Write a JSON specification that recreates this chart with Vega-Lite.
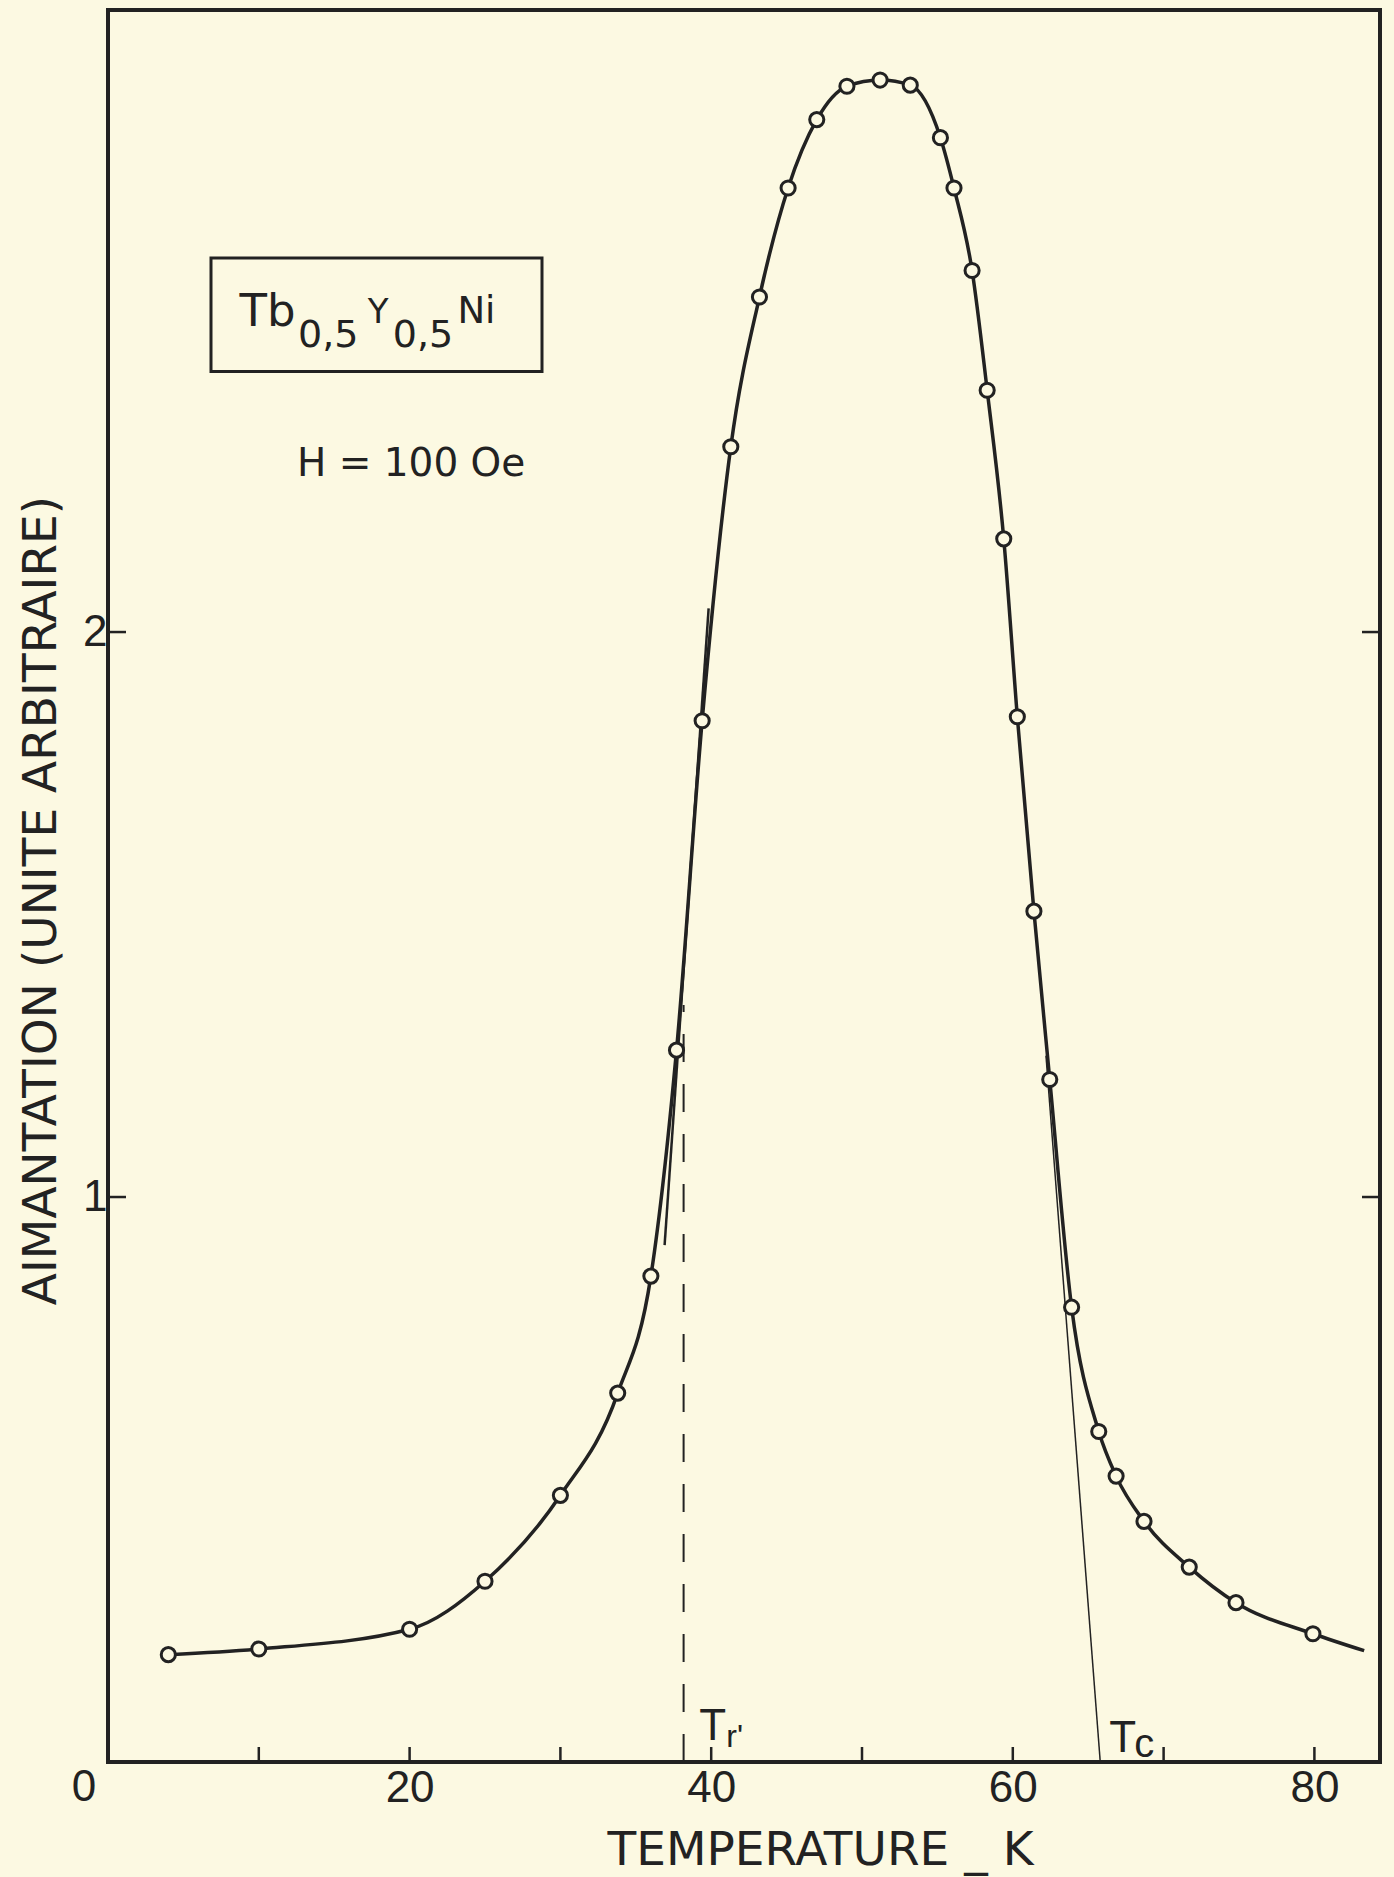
{
  "$schema": "https://vega.github.io/schema/vega-lite/v6.json",
  "width": 1272,
  "height": 1752,
  "autosize": "none",
  "padding": {"left": 108, "top": 10, "right": 14, "bottom": 115},
  "background": "#FCF9E2",
  "config": {
    "view": {"stroke": "#222222", "strokeWidth": 4},
    "axis": {
      "grid": false,
      "domain": false,
      "ticks": false,
      "labelColor": "#222222",
      "titleColor": "#222222",
      "labelFont": "Liberation Sans",
      "labelFontSize": 44,
      "titleFont": "DejaVu Sans",
      "titleFontWeight": "normal"
    }
  },
  "datasets": {
    "points": [
      {"t": 4, "m": 0.19}, {"t": 10, "m": 0.2}, {"t": 20, "m": 0.235}, {"t": 25, "m": 0.32},
      {"t": 30, "m": 0.472}, {"t": 33.8, "m": 0.653}, {"t": 36, "m": 0.86}, {"t": 37.7, "m": 1.26},
      {"t": 39.4, "m": 1.843}, {"t": 41.3, "m": 2.328}, {"t": 43.2, "m": 2.593}, {"t": 45.1, "m": 2.786},
      {"t": 47, "m": 2.907}, {"t": 49, "m": 2.966}, {"t": 51.2, "m": 2.977}, {"t": 53.2, "m": 2.968},
      {"t": 55.2, "m": 2.875}, {"t": 56.1, "m": 2.786}, {"t": 57.3, "m": 2.64}, {"t": 58.3, "m": 2.428},
      {"t": 59.4, "m": 2.165}, {"t": 60.3, "m": 1.85}, {"t": 61.4, "m": 1.506}, {"t": 62.45, "m": 1.208},
      {"t": 63.9, "m": 0.805}, {"t": 65.7, "m": 0.585}, {"t": 66.85, "m": 0.506}, {"t": 68.7, "m": 0.426},
      {"t": 71.7, "m": 0.345}, {"t": 74.8, "m": 0.282}, {"t": 79.9, "m": 0.227}
    ],
    "curve": [
      {"t": 4, "m": 0.19}, {"t": 10, "m": 0.2}, {"t": 20, "m": 0.235}, {"t": 25, "m": 0.32},
      {"t": 30, "m": 0.472}, {"t": 33.8, "m": 0.653}, {"t": 36, "m": 0.86}, {"t": 37.7, "m": 1.26},
      {"t": 39.4, "m": 1.843}, {"t": 41.3, "m": 2.328}, {"t": 43.2, "m": 2.593}, {"t": 45.1, "m": 2.786},
      {"t": 47, "m": 2.907}, {"t": 49, "m": 2.966}, {"t": 51.2, "m": 2.977}, {"t": 53.2, "m": 2.968},
      {"t": 55.2, "m": 2.875}, {"t": 56.1, "m": 2.786}, {"t": 57.3, "m": 2.64}, {"t": 58.3, "m": 2.428},
      {"t": 59.4, "m": 2.165}, {"t": 60.3, "m": 1.85}, {"t": 61.4, "m": 1.506}, {"t": 62.45, "m": 1.208},
      {"t": 63.9, "m": 0.805}, {"t": 65.7, "m": 0.585}, {"t": 66.85, "m": 0.506}, {"t": 68.7, "m": 0.426},
      {"t": 71.7, "m": 0.345}, {"t": 74.8, "m": 0.282}, {"t": 79.9, "m": 0.227}, {"t": 83.3, "m": 0.197}
    ],
    "xticks": [
      {"t": 10, "m": 0}, {"t": 20, "m": 0}, {"t": 30, "m": 0}, {"t": 40, "m": 0},
      {"t": 50, "m": 0}, {"t": 60, "m": 0}, {"t": 70, "m": 0}, {"t": 80, "m": 0}
    ],
    "yticksLeft": [{"t": 0, "m": 1}, {"t": 0, "m": 2}],
    "yticksRight": [{"t": 84.35, "m": 1}, {"t": 84.35, "m": 2}],
    "tangentTr": [{"t": 36.91, "m": 0.915}, {"t": 39.83, "m": 2.042}],
    "tangentTc": [{"t": 62.2, "m": 1.25}, {"t": 65.8, "m": 0}],
    "dashed": [{"t": 38.17, "m": 0, "m2": 1.34}],
    "box": [{"t": 6.83, "t2": 28.78, "m": 2.662, "m2": 2.461}],
    "origin": [{"t": 0, "m": 0, "label": "0"}],
    "formulaBig": [{"t": 8.72, "m": 2.5425, "label": "Tb"}],
    "formulaSub": [{"t": 12.6, "m": 2.504, "label": "0,5"}, {"t": 18.89, "m": 2.504, "label": "0,5"}],
    "formulaY": [{"t": 17.22, "m": 2.547, "label": "Y"}],
    "formulaNi": [{"t": 23.17, "m": 2.547, "label": "Ni"}],
    "field": [{"t": 20.1, "m": 2.276, "label": "H = 100 Oe"}],
    "tLetters": [{"t": 39.21, "m": 0.039, "label": "T"}, {"t": 66.39, "m": 0.018, "label": "T"}],
    "tSubR": [{"t": 41.0, "m": 0.027, "label": "r'"}],
    "tSubC": [{"t": 68.05, "m": 0.009, "label": "c"}]
  },
  "layer": [
    {
      "data": {"name": "curve"},
      "mark": {"type": "line", "interpolate": "monotone", "color": "#222222", "strokeWidth": 3.5},
      "encoding": {
        "x": {
          "field": "t", "type": "quantitative",
          "scale": {"domain": [0, 84.35], "nice": false, "zero": false},
          "axis": {
            "orient": "bottom",
            "values": [20, 40, 60, 80],
            "format": "d",
            "labelFlush": false,
            "labelOverlap": false,
            "labelPadding": 4,
            "title": "TEMPERATURE _ K",
            "titleFontSize": 47,
            "titleX": 712,
            "titleY": 102,
            "titleBaseline": "alphabetic",
            "titleAlign": "center"
          }
        },
        "y": {
          "field": "m", "type": "quantitative",
          "scale": {"domain": [0, 3.101], "nice": false, "zero": false},
          "axis": {
            "orient": "left",
            "values": [1, 2],
            "format": "d",
            "labelPadding": 1,
            "title": "AIMANTATION (UNITE ARBITRAIRE)",
            "titleFontSize": 47,
            "titleX": -53,
            "titleY": 890,
            "titleAngle": 270,
            "titleBaseline": "alphabetic",
            "titleAlign": "center"
          }
        }
      }
    },
    {
      "data": {"name": "box"},
      "mark": {"type": "rect", "fillOpacity": 0, "stroke": "#222222", "strokeWidth": 3},
      "encoding": {
        "x": {"field": "t", "type": "quantitative"},
        "x2": {"field": "t2"},
        "y": {"field": "m", "type": "quantitative"},
        "y2": {"field": "m2"}
      }
    },
    {
      "data": {"name": "xticks"},
      "mark": {"type": "tick", "orient": "vertical", "size": 15, "thickness": 2.5, "yOffset": -7.5, "color": "#222222", "opacity": 1},
      "encoding": {
        "x": {"field": "t", "type": "quantitative"},
        "y": {"field": "m", "type": "quantitative"}
      }
    },
    {
      "data": {"name": "yticksLeft"},
      "mark": {"type": "tick", "orient": "horizontal", "size": 18, "thickness": 2.5, "xOffset": 9, "color": "#222222", "opacity": 1},
      "encoding": {
        "x": {"field": "t", "type": "quantitative"},
        "y": {"field": "m", "type": "quantitative"}
      }
    },
    {
      "data": {"name": "yticksRight"},
      "mark": {"type": "tick", "orient": "horizontal", "size": 18, "thickness": 2.5, "xOffset": -9, "color": "#222222", "opacity": 1},
      "encoding": {
        "x": {"field": "t", "type": "quantitative"},
        "y": {"field": "m", "type": "quantitative"}
      }
    },
    {
      "data": {"name": "tangentTr"},
      "mark": {"type": "line", "color": "#222222", "strokeWidth": 2.5},
      "encoding": {
        "x": {"field": "t", "type": "quantitative"},
        "y": {"field": "m", "type": "quantitative"}
      }
    },
    {
      "data": {"name": "tangentTc"},
      "mark": {"type": "line", "color": "#222222", "strokeWidth": 1.5},
      "encoding": {
        "x": {"field": "t", "type": "quantitative"},
        "y": {"field": "m", "type": "quantitative"}
      }
    },
    {
      "data": {"name": "dashed"},
      "mark": {"type": "rule", "color": "#222222", "strokeWidth": 2, "strokeDash": [28, 22]},
      "encoding": {
        "x": {"field": "t", "type": "quantitative"},
        "y": {"field": "m", "type": "quantitative"},
        "y2": {"field": "m2"}
      }
    },
    {
      "data": {"name": "points"},
      "mark": {"type": "point", "shape": "circle", "filled": true, "fill": "#FCF9E2", "stroke": "#222222", "strokeWidth": 3, "size": 200, "opacity": 1},
      "encoding": {
        "x": {"field": "t", "type": "quantitative"},
        "y": {"field": "m", "type": "quantitative"}
      }
    },
    {
      "data": {"name": "origin"},
      "mark": {"type": "text", "font": "Liberation Sans", "fontSize": 44, "align": "center", "baseline": "top", "dx": -24, "dy": 4, "color": "#222222"},
      "encoding": {
        "x": {"field": "t", "type": "quantitative"},
        "y": {"field": "m", "type": "quantitative"},
        "text": {"field": "label"}
      }
    },
    {
      "data": {"name": "formulaBig"},
      "mark": {"type": "text", "font": "DejaVu Sans", "fontSize": 45, "align": "left", "baseline": "alphabetic", "color": "#222222"},
      "encoding": {
        "x": {"field": "t", "type": "quantitative"},
        "y": {"field": "m", "type": "quantitative"},
        "text": {"field": "label"}
      }
    },
    {
      "data": {"name": "formulaSub"},
      "mark": {"type": "text", "font": "DejaVu Sans", "fontSize": 38, "align": "left", "baseline": "alphabetic", "color": "#222222"},
      "encoding": {
        "x": {"field": "t", "type": "quantitative"},
        "y": {"field": "m", "type": "quantitative"},
        "text": {"field": "label"}
      }
    },
    {
      "data": {"name": "formulaY"},
      "mark": {"type": "text", "font": "DejaVu Sans", "fontSize": 34, "align": "left", "baseline": "alphabetic", "color": "#222222"},
      "encoding": {
        "x": {"field": "t", "type": "quantitative"},
        "y": {"field": "m", "type": "quantitative"},
        "text": {"field": "label"}
      }
    },
    {
      "data": {"name": "formulaNi"},
      "mark": {"type": "text", "font": "DejaVu Sans", "fontSize": 37, "align": "left", "baseline": "alphabetic", "color": "#222222"},
      "encoding": {
        "x": {"field": "t", "type": "quantitative"},
        "y": {"field": "m", "type": "quantitative"},
        "text": {"field": "label"}
      }
    },
    {
      "data": {"name": "field"},
      "mark": {"type": "text", "font": "DejaVu Sans", "fontSize": 39, "align": "center", "baseline": "alphabetic", "color": "#222222"},
      "encoding": {
        "x": {"field": "t", "type": "quantitative"},
        "y": {"field": "m", "type": "quantitative"},
        "text": {"field": "label"}
      }
    },
    {
      "data": {"name": "tLetters"},
      "mark": {"type": "text", "font": "Liberation Sans", "fontSize": 44, "align": "left", "baseline": "alphabetic", "color": "#222222"},
      "encoding": {
        "x": {"field": "t", "type": "quantitative"},
        "y": {"field": "m", "type": "quantitative"},
        "text": {"field": "label"}
      }
    },
    {
      "data": {"name": "tSubR"},
      "mark": {"type": "text", "font": "Liberation Sans", "fontSize": 32, "align": "left", "baseline": "alphabetic", "color": "#222222"},
      "encoding": {
        "x": {"field": "t", "type": "quantitative"},
        "y": {"field": "m", "type": "quantitative"},
        "text": {"field": "label"}
      }
    },
    {
      "data": {"name": "tSubC"},
      "mark": {"type": "text", "font": "Liberation Sans", "fontSize": 40, "align": "left", "baseline": "alphabetic", "color": "#222222"},
      "encoding": {
        "x": {"field": "t", "type": "quantitative"},
        "y": {"field": "m", "type": "quantitative"},
        "text": {"field": "label"}
      }
    }
  ]
}
